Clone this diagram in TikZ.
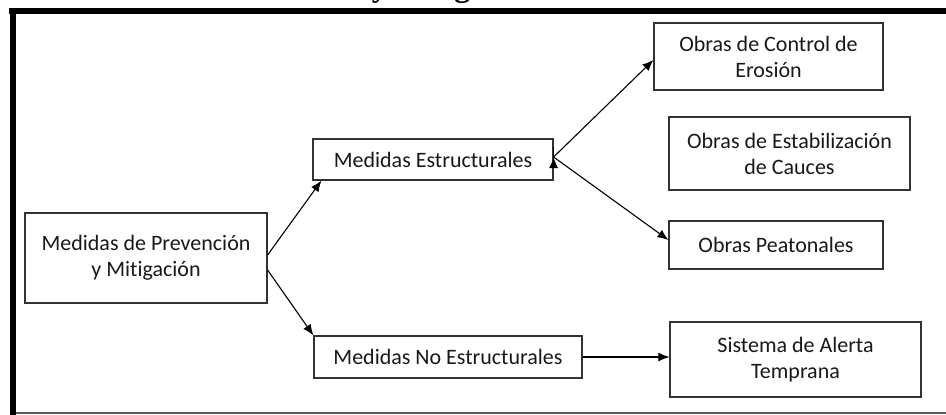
\documentclass[tikz,border=0pt]{standalone}
\usepackage{fontspec}
\setmainfont{Carlito}[Ligatures=NoCommon]
\newfontfamily\titlefont{Liberation Serif}
\usetikzlibrary{arrows.meta,calc}

\tikzset{
	caja/.style={draw=black!80, line width=1.2pt, fill=white, align=center, inner sep=0pt,
		text=black!90, font=\fontsize{22}{26}\selectfont},
	flecha/.style={-{Latex[length=11pt,width=9pt]}, line width=1.1pt},
}

\begin{document}
\begin{tikzpicture}[x=1pt,y=-1pt]
	\useasboundingbox (0,0) rectangle (946,415);
	%title, cut off at the top
		\begin{scope}
			\clip (0,0) rectangle (946,5);
			\node[anchor=base west, inner sep=0pt, font=\titlefont\bfseries\fontsize{32}{38}\selectfont] (titulo) at (46,-3) {Medidas de Prevención y Mitigación};
		\end{scope}
	%frame
		\fill (9,8) rectangle (946,14);
		\fill (10,8) rectangle (16,415);
		\draw[black!65, line width=1.5pt] (16,413) -- (946,413);
	%boxes
		\node[caja, minimum width=242, minimum height=90] (prev) at (146,258) {Medidas de Prevención\\y Mitigación};
		\node[caja, minimum width=240, minimum height=41] (estr) at (433,159.5) {Medidas Estructurales};
		\node[caja, minimum width=268, minimum height=42] (noestr) at (448,357) {Medidas No Estructurales};
		\node[caja, minimum width=229, minimum height=67] (erosion) at (768.5,56.5) {Obras de Control de\\Erosión};
		\node[caja, minimum width=241, minimum height=73] (cauces) at (789.5,153.5) {Obras de Estabilización\\de Cauces};
		\node[caja, minimum width=214, minimum height=48] (peat) at (776,245) {Obras Peatonales};
		\node[caja, minimum width=251, minimum height=75] (alerta) at (795.5,359.5) {Sistema de Alerta\\Temprana};
	%arrows
		\draw[flecha] ($(prev.east)+(0,-3)$) -- ($(estr.south west)+(9,0)$);
		\draw[flecha] ($(prev.east)+(0,12)$) -- (noestr.north west);
		\draw[flecha] ($(estr.east)+(0,-2.5)$) -- ($(erosion.west)+(0,3.5)$);
		\draw[flecha] ($(estr.east)+(0,-2.5)$) -- ($(estr.east)+(0,-2.5)$ -| cauces.west);
		\draw[flecha] ($(estr.east)+(0,-2.5)$) -- ($(peat.west)+(0,-5)$);
		\draw[flecha] (noestr.east) -- (noestr.east -| alerta.west);
\end{tikzpicture}
\end{document}
